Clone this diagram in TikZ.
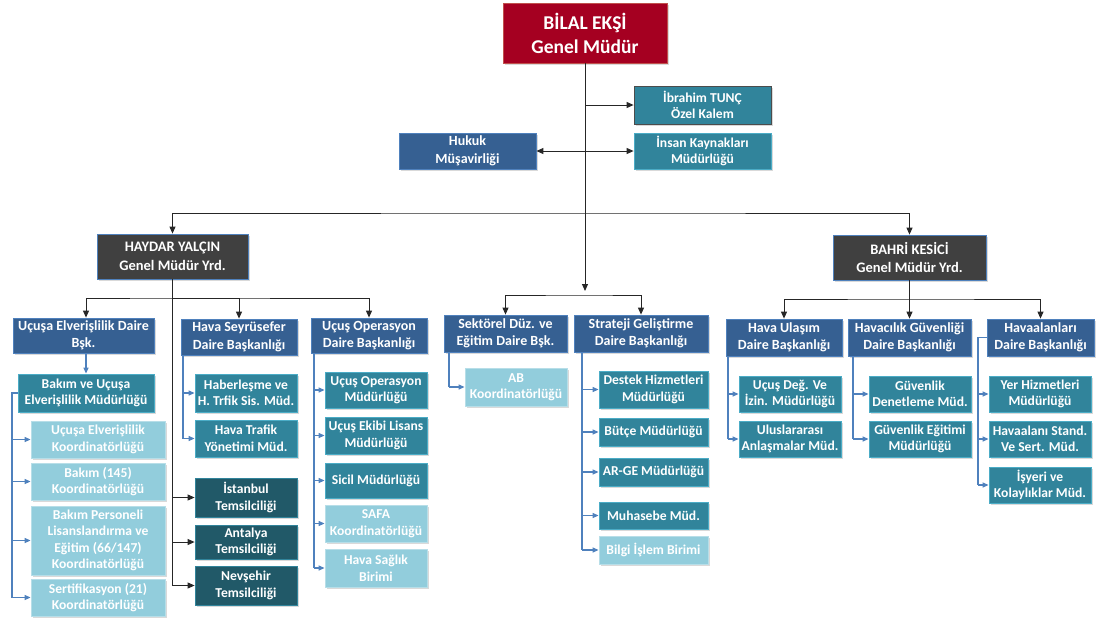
\documentclass[tikz,border=0pt]{standalone}
\usepackage{fontspec}
\setmainfont{Carlito}
\usetikzlibrary{arrows.meta,shadows,calc}
\definecolor{cred}{HTML}{A50021}
\definecolor{credb}{HTML}{C0504D}
\definecolor{cdept}{HTML}{366092}
\definecolor{cdeptb}{HTML}{4F81BD}
\definecolor{cteal}{HTML}{31849B}
\definecolor{ctealb}{HTML}{4BACC6}
\definecolor{cdark}{HTML}{215968}
\definecolor{cdarkb}{HTML}{31849B}
\definecolor{clight}{HTML}{92CDDC}
\definecolor{clightb}{HTML}{B7DEE8}
\definecolor{cgmy}{HTML}{404040}
\definecolor{cline}{HTML}{4F81BD}
\newcommand\bx[7]{\node[#2, minimum width={#5-#3}, minimum height={#6-#4}] (#1) at ({(#3+#5)/2},{(#4+#6)/2}) {#7};}
\begin{document}
\begin{tikzpicture}[x=1pt,y=-1pt,
  box/.style={inner sep=0pt, align=center, text=white, line width=0.8pt,
    font=\bfseries\fontsize{13.6}{16.5}\selectfont,
    drop shadow={shadow xshift=1.5pt, shadow yshift=-1.5pt, opacity=0.3}},
  redbox/.style={box, fill=cred, draw=credb, font=\bfseries\fontsize{19.5}{24}\selectfont},
  gmybox/.style={box, fill=cgmy, draw=cdeptb, font=\bfseries\fontsize{14.5}{18.5}\selectfont},
  deptbox/.style={box, fill=cdept, draw=cdeptb, font=\bfseries\fontsize{14}{17.5}\selectfont},
  tealbox/.style={box, fill=cteal, draw=ctealb},
  darkbox/.style={box, fill=cdark, draw=cdarkb},
  lightbox/.style={box, fill=clight, draw=clightb},
  ar/.style={line width=1pt, black!85, -{Triangle[length=7pt,width=6pt]}},
  arboth/.style={line width=1pt, black!85, {Triangle[length=7pt,width=6pt]}-{Triangle[length=7pt,width=6pt]}},
  ln/.style={line width=1pt, black!85},
  bl/.style={line width=1.2pt, cline},
  bar/.style={line width=1.2pt, cline, -{Triangle[length=6pt,width=5pt]}}]
\useasboundingbox (0,0) rectangle (1100,622);

% top level
\bx{gm}{redbox}{503}{3}{667}{63}{BİLAL EKŞİ\\Genel Müdür}
\bx{ibr}{tealbox,draw=black!70}{634}{86}{771}{124}{İbrahim TUNÇ\\Özel Kalem}
\bx{ik}{tealbox}{634}{133}{771}{169}{İnsan Kaynakları\\Müdürlüğü}
\bx{huk}{deptbox}{399}{133}{536}{169}{Hukuk\\Müşavirliği}
\bx{hay}{gmybox}{97}{234}{248}{279}{HAYDAR YALÇIN\\Genel Müdür Yrd.}
\bx{bah}{gmybox}{833}{235}{986}{280}{BAHRİ KESİCİ\\Genel Müdür Yrd.}

% departments
\bx{ucel}{deptbox}{13}{318}{154}{353}{Uçuşa Elverişlilik Daire\\Bşk.}
\bx{hs}{deptbox}{181}{319}{297}{355}{Hava Seyrüsefer\\Daire Başkanlığı}
\bx{ucop}{deptbox}{311}{318}{427}{353}{Uçuş Operasyon\\Daire Başkanlığı}
\bx{sek}{deptbox}{444}{315}{567}{352}{Sektörel Düz. ve\\Eğitim Daire Bşk.}
\bx{str}{deptbox}{574}{315}{708}{352}{Strateji Geliştirme\\Daire Başkanlığı}
\bx{hu}{deptbox}{726}{319}{842}{356}{Hava Ulaşım\\Daire Başkanlığı}
\bx{hg}{deptbox}{848}{319}{971}{356}{Havacılık Güvenliği\\Daire Başkanlığı}
\bx{hv}{deptbox}{987}{319}{1094}{356}{Havaalanları\\Daire Başkanlığı}

% Uçuşa Elverişlilik
\bx{bakim}{tealbox}{18}{374}{154}{412}{Bakım ve Uçuşa\\Elverişlilik Müdürlüğü}
\bx{k1}{lightbox}{31}{421}{165}{458}{Uçuşa Elverişlilik\\Koordinatörlüğü}
\bx{k2}{lightbox}{31}{463}{165}{500}{Bakım (145)\\Koordinatörlüğü}
\bx{k3}{lightbox}{31}{506}{165}{575}{Bakım Personeli\\Lisanslandırma ve\\Eğitim (66/147)\\Koordinatörlüğü}
\bx{k4}{lightbox}{31}{579}{165}{616}{Sertifikasyon (21)\\Koordinatörlüğü}

% Hava Seyrüsefer + temsilcilikler
\bx{hab}{tealbox}{195}{374}{297}{412}{Haberleşme ve\\H. Trfik Sis. Müd.}
\bx{htk}{tealbox}{195}{420}{297}{457}{Hava Trafik\\Yönetimi Müd.}
\bx{ist}{darkbox}{195}{478}{297}{517}{İstanbul\\Temsilciliği}
\bx{ant}{darkbox}{195}{525}{297}{559}{Antalya\\Temsilciliği}
\bx{nev}{darkbox}{195}{566}{297}{605}{Nevşehir\\Temsilciliği}

% Uçuş Operasyon
\bx{uo1}{tealbox}{325}{372}{427}{408}{Uçuş Operasyon\\Müdürlüğü}
\bx{uo2}{tealbox}{325}{417}{427}{454}{Uçuş Ekibi Lisans\\Müdürlüğü}
\bx{uo3}{tealbox}{325}{463}{427}{498}{Sicil Müdürlüğü}
\bx{uo4}{lightbox}{325}{505}{427}{542}{SAFA\\Koordinatörlüğü}
\bx{uo5}{lightbox}{325}{549}{427}{587}{Hava Sağlık\\Birimi}

% Sektörel / Strateji
\bx{ab}{lightbox}{465}{368}{567}{406}{AB\\Koordinatörlüğü}
\bx{s1}{tealbox}{599}{371}{708}{408}{Destek Hizmetleri\\Müdürlüğü}
\bx{s2}{tealbox}{599}{418}{708}{446}{Bütçe Müdürlüğü}
\bx{s3}{tealbox}{599}{458}{708}{486}{AR-GE Müdürlüğü}
\bx{s4}{tealbox}{599}{502}{708}{529}{Muhasebe Müd.}
\bx{s5}{lightbox}{599}{536}{708}{564}{Bilgi İşlem Birimi}

% Bahri Kesici side
\bx{u1}{tealbox}{739}{376}{841}{412}{Uçuş Değ. Ve\\İzin. Müdürlüğü}
\bx{u2}{tealbox}{739}{421}{841}{457}{Uluslararası\\Anlaşmalar Müd.}
\bx{g1}{tealbox}{869}{376}{971}{412}{Güvenlik\\Denetleme Müd.}
\bx{g2}{tealbox}{869}{421}{971}{457}{Güvenlik Eğitimi\\Müdürlüğü}
\bx{a1}{tealbox}{989}{376}{1091}{412}{Yer Hizmetleri\\Müdürlüğü}
\bx{a2}{tealbox}{989}{421}{1091}{457}{Havaalanı Stand.\\Ve Sert. Müd.}
\bx{a3}{tealbox}{989}{467}{1091}{503}{İşyeri ve\\Kolaylıklar Müd.}

% ---- black connectors ----
\coordinate (c1) at (585,291);
\coordinate (hz) at (585,213);
\coordinate (sp) at (585,295);
\draw[ar] (gm.south) -- (c1);
\draw[ar] (gm.south |- ibr.west) -- (ibr.west);
\draw[ar] (gm.south |- ik.west) -- (ik.west);
\draw[ar] (gm.south |- huk.east) -- (huk.east);
\draw[arboth] (hay.north) |- (hz) -| (bah.north);
\draw[arboth] (sek.north) |- (sp) -| (str.north);

\coordinate (h2) at (172.5,298);
\draw[ln] (hay.south) -- (hay.south |- nev.west);
\draw[arboth] (bakim.north |- ucel.north) |- (h2) -| (ucop.north);
\draw[ar] (h2) -| (hs.north);
\foreach \n in {ist,ant,nev} \draw[ar] (hay.south |- \n.west) -- (\n.west);

\coordinate (b2) at (909.5,299);
\draw[ln] (bah.south) -- (b2);
\draw[arboth] (hu.north) |- (b2) -| (hv.north);
\draw[ar] (b2) -- (hg.north);

% ---- blue connectors ----
\draw[bar] (bakim.north |- ucel.south) -- (bakim.north);
\coordinate (bkx) at (12,393);
\draw[bl] (bakim.west) -- (bkx) -- (bkx |- k4.west);
\foreach \n in {k1,k2,k3,k4} \draw[bar] (bkx |- \n.west) -- (\n.west);

\coordinate (hsx) at (183,355);
\draw[bl] (hsx) -- (hsx |- htk.west);
\foreach \n in {hab,htk} \draw[bar] (hsx |- \n.west) -- (\n.west);

\coordinate (uox) at (314,353);
\draw[bl] (uox) -- (uox |- uo5.west);
\foreach \n in {uo1,uo2,uo3,uo4,uo5} \draw[bar] (uox |- \n.west) -- (\n.west);

\coordinate (skx) at (449,352);
\draw[bl] (skx) -- (skx |- ab.west);
\draw[bar] (skx |- ab.west) -- (ab.west);

\coordinate (stx) at (582,352);
\draw[bl] (stx) -- (stx |- s5.west);
\foreach \n in {s1,s2,s3,s4,s5} \draw[bar] (stx |- \n.west) -- (\n.west);

\coordinate (hux) at (728,356);
\draw[bl] (hux) -- (hux |- u2.west);
\foreach \n in {u1,u2} \draw[bar] (hux |- \n.west) -- (\n.west);

\coordinate (hgx) at (853,356);
\draw[bl] (hgx) -- (hgx |- g2.west);
\foreach \n in {g1,g2} \draw[bar] (hgx |- \n.west) -- (\n.west);

\coordinate (hvx) at (978,337.5);
\draw[bl] (hv.west) -- (hvx) -- (hvx |- a3.west);
\foreach \n in {a1,a2,a3} \draw[bar] (hvx |- \n.west) -- (\n.west);
\end{tikzpicture}
\end{document}
